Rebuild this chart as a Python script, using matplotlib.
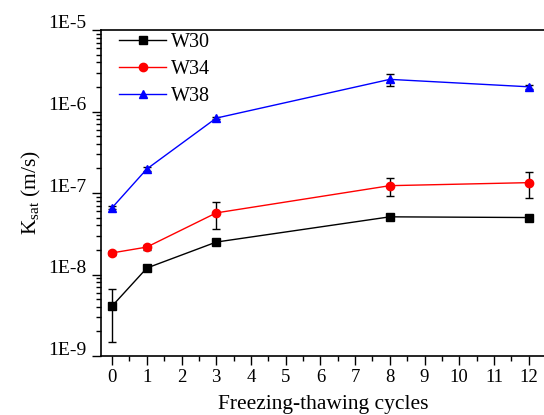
import math
import matplotlib
matplotlib.use("Agg")
import matplotlib.pyplot as plt
import matplotlib.transforms as mtransforms
from matplotlib.ticker import (FixedLocator, MultipleLocator, FuncFormatter,
                               NullFormatter)

plt.rcParams['font.family'] = ['Liberation Serif', 'DejaVu Serif']
plt.rcParams['mathtext.fontset'] = 'custom'
plt.rcParams['mathtext.rm'] = 'Liberation Serif'
plt.rcParams['mathtext.it'] = 'Liberation Serif:italic'

# Freezing-thawing cycles
cycles = [0, 1, 3, 8, 12]

# Saturated hydraulic conductivity (m/s) and standard deviation
w30 = [4.1e-9, 1.2e-8, 2.5e-8, 5.1e-8, 5.0e-8]
w30_err = [2.6e-9, 0.06e-8, 0.1e-8, 0.15e-8, 0.15e-8]
w34 = [1.84e-8, 2.17e-8, 5.7e-8, 1.23e-7, 1.34e-7]
w34_err = [0.1e-8, 0.15e-8, 2.1e-8, 3.0e-8, 4.8e-8]
w38 = [6.6e-8, 1.97e-7, 8.3e-7, 2.48e-6, 2.01e-6]
w38_err = [0.3e-8, 1.2e-8, 0.3e-7, 4.0e-7, 1.2e-7]

# Decade ticks of the conductivity axis
y_major = [1e-9, 1e-8, 1e-7, 1e-6, 1e-5]
y_minor = [m * 10.0 ** e for e in range(-9, -5) for m in range(2, 10)]

series = [
    ("W30", w30, w30_err, "black", "s", 5.5),
    ("W34", w34, w34_err, "red", "o", 6.0),
    ("W38", w38, w38_err, "blue", "^", 6.0),
]

fig = plt.figure(figsize=(5.44, 4.15), dpi=100)
ax = fig.add_axes([101 / 544, 59 / 415, 445 / 544, 326 / 415])

handles, names = [], []
for name, vals, errs, color, marker, ms in series:
    cont = ax.errorbar(cycles, vals, yerr=errs, color=color, marker=marker,
                       markersize=ms, linewidth=1.0, ecolor="black",
                       elinewidth=1.0, capsize=2.6, capthick=1.0)
    handles.append(cont[0])
    names.append(name)

ax.set_yscale("log")
ax.set_ylim(1e-9, 1e-5)
ax.set_xlim(-0.32, 12.5)

ax.xaxis.set_major_locator(MultipleLocator(1))
ax.xaxis.set_minor_locator(MultipleLocator(0.5))
ax.yaxis.set_major_locator(FixedLocator(y_major))
ax.yaxis.set_minor_locator(FixedLocator(y_minor))
ax.yaxis.set_minor_formatter(NullFormatter())
ax.yaxis.set_major_formatter(FuncFormatter(lambda v, p: "1E%d" % round(math.log10(v))))

ax.tick_params(axis="both", which="major", direction="out", length=6.5, width=1,
               colors="black")
ax.tick_params(axis="both", which="minor", direction="out", length=3.5, width=1)
ax.tick_params(axis="x", labelsize=13.5, pad=3)
ax.tick_params(axis="y", labelsize=14, pad=4)

# y tick labels sit slightly above their ticks
shift = mtransforms.ScaledTranslation(0, 8 / 100, fig.dpi_scale_trans)
for lbl in ax.get_yticklabels():
    lbl.set_transform(lbl.get_transform() + shift)

for s in ("left", "bottom", "top"):
    ax.spines[s].set_linewidth(1.2)
ax.spines["right"].set_visible(False)

ax.set_xlabel("Freezing-thawing cycles", fontsize=15.5, labelpad=6)
ax.set_ylabel(r"K$_{\mathrm{sat}}$ (m/s)", fontsize=15.5, labelpad=4)

ax.legend(handles, names, loc="upper left", frameon=False, fontsize=14.5,
          handlelength=2.35, borderaxespad=0.0, labelspacing=0.4,
          handletextpad=0.25, borderpad=0.0,
          bbox_to_anchor=(18 / 445, 1 - 3 / 326))

fig.savefig("out.png", dpi=100)
